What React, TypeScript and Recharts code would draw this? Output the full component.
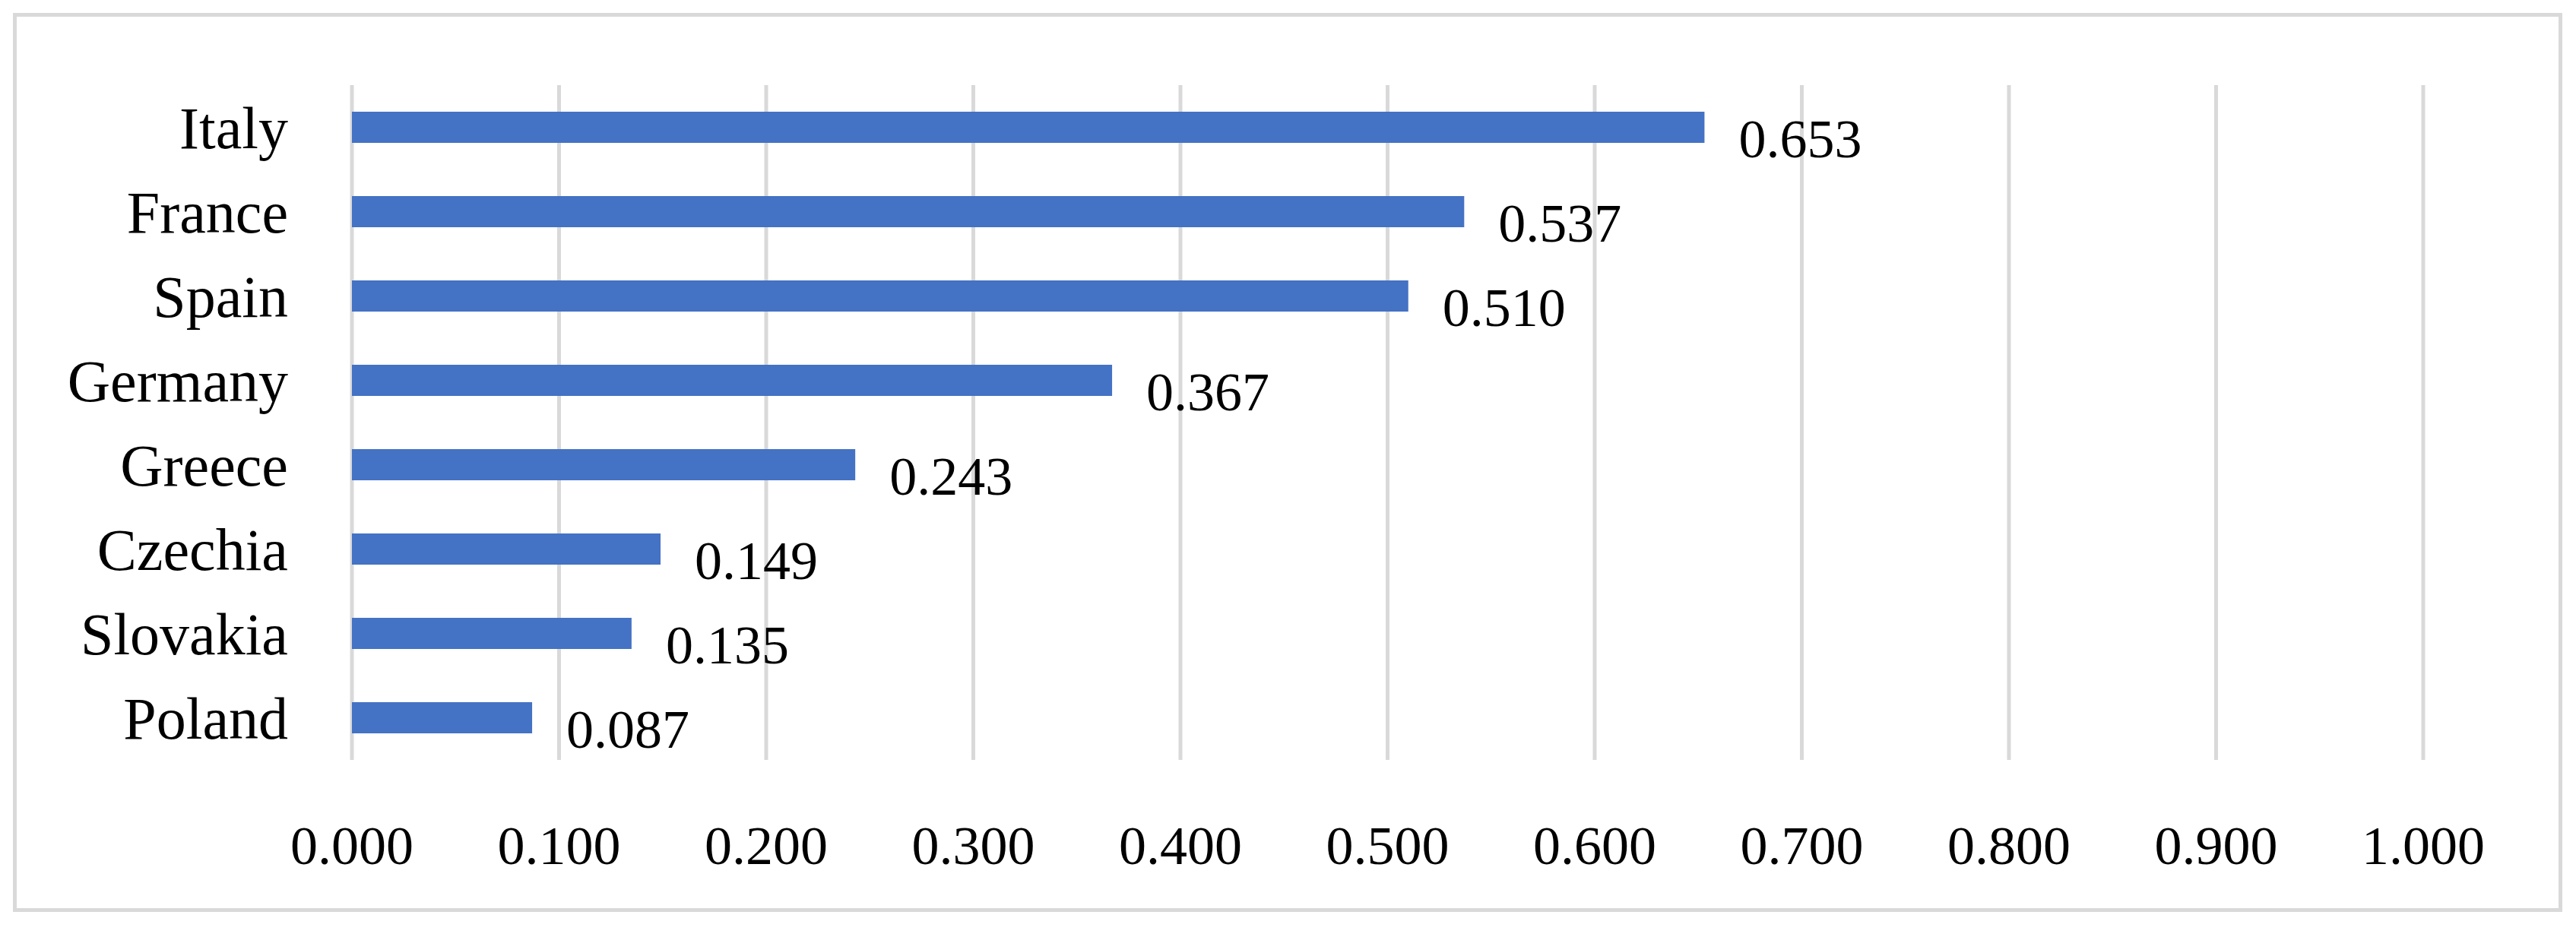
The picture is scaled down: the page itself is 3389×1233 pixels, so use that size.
import { Bar, BarChart, CartesianGrid, LabelList, XAxis, YAxis } from "recharts";

const countries = ["Italy", "France", "Spain", "Germany", "Greece", "Czechia", "Slovakia", "Poland"];
const values = [0.653, 0.537, 0.51, 0.367, 0.243, 0.149, 0.135, 0.087];
const xTicks = [0, 0.1, 0.2, 0.3, 0.4, 0.5, 0.6, 0.7, 0.8, 0.9, 1.0];

const data = countries.map((name, i) => ({ name, value: values[i] }));
const font = "'Liberation Serif', 'Times New Roman', serif";

function App() {
  return (
    <div style={{ position: "absolute", left: 0, top: 0, width: 3389, height: 1233, background: "#fff" }}>
      <div
        style={{
          position: "absolute",
          left: 17,
          top: 17,
          width: 3354,
          height: 1183,
          border: "5px solid #d9d9d9",
          boxSizing: "border-box",
        }}
      />
      <BarChart
        width={3389}
        height={1233}
        data={data}
        layout="vertical"
        margin={{ top: 112, right: 201, bottom: 0, left: 0 }}
        style={{ fontFamily: font }}
      >
        <CartesianGrid horizontal={false} stroke="#d9d9d9" strokeWidth={5} />
        <XAxis
          type="number"
          domain={[0, 1]}
          ticks={xTicks}
          tickFormatter={(v: number) => v.toFixed(3)}
          axisLine={false}
          tickLine={false}
          tickMargin={80}
          height={233}
          tick={{ fill: "#000", fontSize: 72, fontFamily: font }}
        />
        <YAxis
          type="category"
          dataKey="name"
          width={463}
          interval={0}
          axisLine={false}
          tickLine={false}
          tickMargin={78}
          tick={{ fill: "#000", fontSize: 78, fontFamily: font }}
        />
        <Bar dataKey="value" fill="#4472c4" barSize={41} isAnimationActive={false}>
          <LabelList
            dataKey="value"
            position="right"
            offset={45}
            formatter={(v: number) => v.toFixed(3)}
            style={{ fill: "#000", fontSize: 72, fontFamily: font }}
            dy={14}
          />
        </Bar>
      </BarChart>
    </div>
  );
}

export default App;
